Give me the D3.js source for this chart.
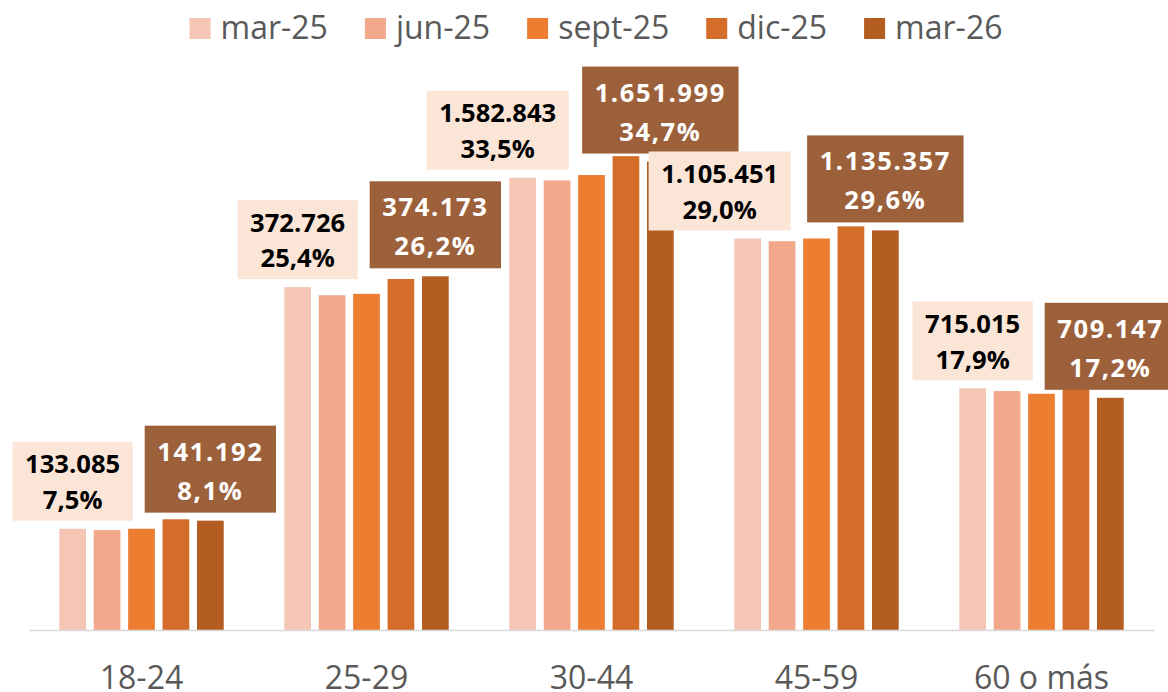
<!DOCTYPE html>
<html>
<head>
<meta charset="utf-8">
<script src="https://cdn.jsdelivr.net/npm/d3@7"></script>
<style>
  body { margin: 0; background: #fff; }
  #chart-container { width: 1168px; height: 692px; }
  text { font-family: "Open Sans", sans-serif; }
</style>
</head>
<body>
<div id="chart-container"></div>
<script>
// Age groups and survey dates
const categories = ["18-24", "25-29", "30-44", "45-59", "60 o más"];
const seriesNames = ["mar-25", "jun-25", "sept-25", "dic-25", "mar-26"];

// Share of each age group (%)
const mar25 = [7.5, 25.4, 33.5, 29.0, 17.9];
const jun25 = [7.4, 24.8, 33.3, 28.8, 17.7];
const sept25 = [7.5, 24.9, 33.7, 29.0, 17.5];
const dic25 = [8.2, 26.0, 35.1, 29.9, 18.0];
const mar26 = [8.1, 26.2, 34.7, 29.6, 17.2];

// Absolute counts shown in the labels (first and last date only)
const countsMar25 = [133085, 372726, 1582843, 1105451, 715015];
const countsMar26 = [141192, 374173, 1651999, 1135357, 709147];

const seriesValues = [mar25, jun25, sept25, dic25, mar26];
const colors = ["#F5C6B6", "#F2A88A", "#ED7D31", "#D46C2A", "#B45D22"];

// manual nudges for labels that were moved in the original chart
const lightLabelShift = { "30-44": -25, "45-59": -28 };

const es = d3.formatLocale({ decimal: ",", thousands: ".", grouping: [3], currency: ["", "€"] });
const fmtInt = es.format(",d");
const fmtPct = es.format(".1f");

const width = 1168, height = 692;
const svg = d3.select("#chart-container").append("svg")
    .attr("width", width)
    .attr("height", height);

const x0 = d3.scaleBand()
    .domain(categories)
    .range([29, 1154])
    .paddingInner(0.235)
    .paddingOuter(0.1175);

const x1 = d3.scaleBand()
    .domain(seriesNames)
    .range([0, x0.bandwidth()])
    .paddingInner(0.224)
    .paddingOuter(0.112);

const y = d3.scaleLinear()
    .domain([0, 40])
    .range([630, 90]);

// Legend
const legend = svg.append("g").attr("class", "legend");
let lx = 0;
seriesNames.forEach((name, i) => {
    const item = legend.append("g").attr("transform", `translate(${lx},0)`);
    item.append("rect")
        .attr("x", 0).attr("y", 18)
        .attr("width", 21).attr("height", 21)
        .attr("fill", colors[i]);
    const t = item.append("text")
        .attr("x", 31).attr("y", 39)
        .style("font-size", "32px")
        .attr("fill", "#595959")
        .text(name);
    lx += 31 + t.node().getComputedTextLength() + 37;
});
const legendW = lx - 37;
legend.attr("transform", `translate(${596 - legendW / 2},0)`);

// Bars
const groups = svg.append("g").selectAll("g")
    .data(categories)
    .join("g")
    .attr("transform", d => `translate(${x0(d)},0)`);

groups.selectAll("rect")
    .data((c, ci) => seriesNames.map((s, si) => ({ s, si, v: seriesValues[si][ci] })))
    .join("rect")
    .attr("x", d => x1(d.s))
    .attr("y", d => y(d.v))
    .attr("width", x1.bandwidth())
    .attr("height", d => y(0) - y(d.v))
    .attr("fill", d => colors[d.si]);

// Category axis
const axis = svg.append("g")
    .attr("transform", `translate(0,${y(0)})`)
    .call(d3.axisBottom(x0).tickSize(0).tickPadding(36).tickSizeOuter(0));
axis.select(".domain").attr("stroke", "#D9D9D9").attr("stroke-width", 1.5);
axis.selectAll("text")
    .style("font-family", "'Open Sans', sans-serif")
    .style("font-size", "32px")
    .attr("fill", "#595959");

// Data labels
const labels = svg.append("g");

function addLabel(ci, si, count, dark) {
    const c = categories[ci];
    const shift = dark ? 0 : (lightLabelShift[c] || 0);
    const cx = x0(c) + x1(seriesNames[si]) + x1.bandwidth() / 2 + shift;
    const boxH = dark ? 87 : 79;
    const top = y(seriesValues[si][ci]) - 8 - boxH;
    const g = labels.append("g");
    const box = g.append("rect").attr("fill", dark ? "#9C613B" : "#FBE5D6");
    const lines = [fmtInt(count), fmtPct(seriesValues[si][ci]) + "%"];
    const offsets = dark ? [35, 74] : [31.7, 67.3];
    let maxW = 0;
    lines.forEach((line, k) => {
        const t = g.append("text")
            .attr("x", cx)
            .attr("y", top + offsets[k])
            .attr("text-anchor", "middle")
            .style("font-size", "25.6px")
            .style("font-weight", "bold")
            .style("letter-spacing", dark ? "1.6px" : "0px")
            .attr("fill", dark ? "#FFFFFF" : "#000000")
            .text(line);
        maxW = Math.max(maxW, t.node().getBBox().width);
    });
    const boxW = maxW + 25;
    box.attr("x", cx - boxW / 2).attr("y", top)
        .attr("width", boxW).attr("height", boxH);
}

categories.forEach((c, ci) => {
    addLabel(ci, 0, countsMar25[ci], false);
    addLabel(ci, 4, countsMar26[ci], true);
});
</script>
</body>
</html>
